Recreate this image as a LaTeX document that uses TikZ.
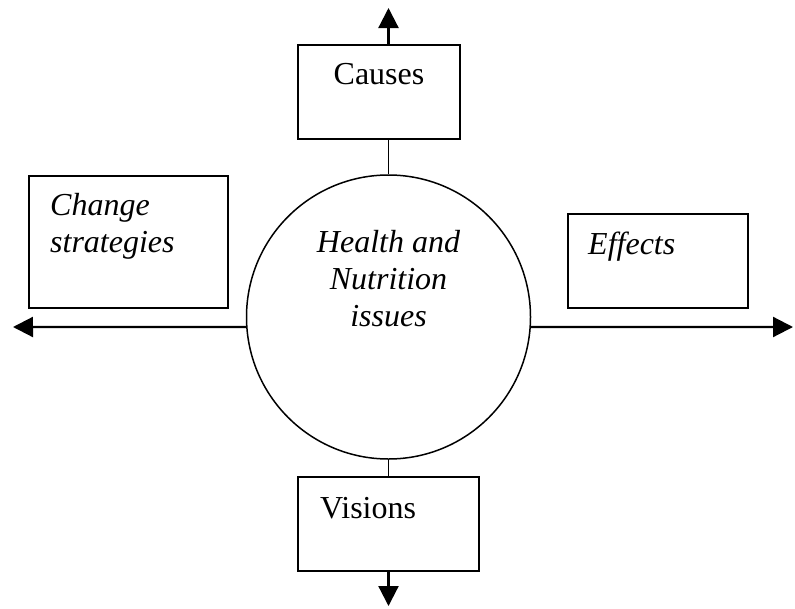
\documentclass[tikz,border=0pt]{standalone}
\usepackage{fontspec}
\setmainfont{Liberation Serif}
\usetikzlibrary{arrows.meta}

\tikzset{
  box/.style={draw, line width=1.6pt, inner sep=0pt},
  lbl/.style={inner sep=0pt, font=\fontsize{32}{37}\selectfont},
  itlbl/.style={inner sep=0pt, font=\fontsize{32}{37}\selectfont\itshape},
  link/.style={line width=1.5pt},
  arr/.style={line width=2.2pt, -{Triangle[length=20pt,width=20pt]}},
}

\begin{document}
\begin{tikzpicture}[x=1pt, y=-1pt]
  %%%%% START %%%%%
  \useasboundingbox (0,0) rectangle (795,608);

  \node[draw, circle, line width=1.5pt, minimum size=284pt, inner sep=0pt] (hni) at (388.5,317) {};
  \node[itlbl, align=center] (hnitext) at (388.5,279) {Health and\\Nutrition\\issues};

  \node[box, minimum width=162pt, minimum height=94pt] (causes) at (379,92) {};
  \node[lbl, anchor=base] (causestext) at (379,84) {Causes};

  \node[box, minimum width=181pt, minimum height=94pt] (visions) at (388.5,524) {};
  \node[lbl, anchor=base west] (visionstext) at (320,518) {Visions};

  \node[box, minimum width=199pt, minimum height=132pt] (change) at (128.5,242) {};
  \node[itlbl, anchor=north west, align=left] (changetext) at (50,193) {Change\\strategies};

  \node[box, minimum width=180pt, minimum height=94pt] (effects) at (658,261) {};
  \node[itlbl, anchor=base west] (effectstext) at (588,254) {Effects};

  \coordinate (uptip) at (388.5,8);
  \coordinate (downtip) at (388.5,606);
  \coordinate (lefttip) at (13,327);
  \coordinate (righttip) at (793,327);

  \draw[link] (hni.north) -- (hni.north |- causes.south);
  \draw[arr] (hni.north |- causes.north) -- (uptip);
  \draw[link] (hni.south) -- (visions.north);
  \draw[arr] (visions.south) -- (downtip);
  \draw[arr] (hni.184) -- (lefttip);
  \draw[arr] (hni.-4) -- (righttip);
  %%%%% END %%%%%
\end{tikzpicture}
\end{document}
